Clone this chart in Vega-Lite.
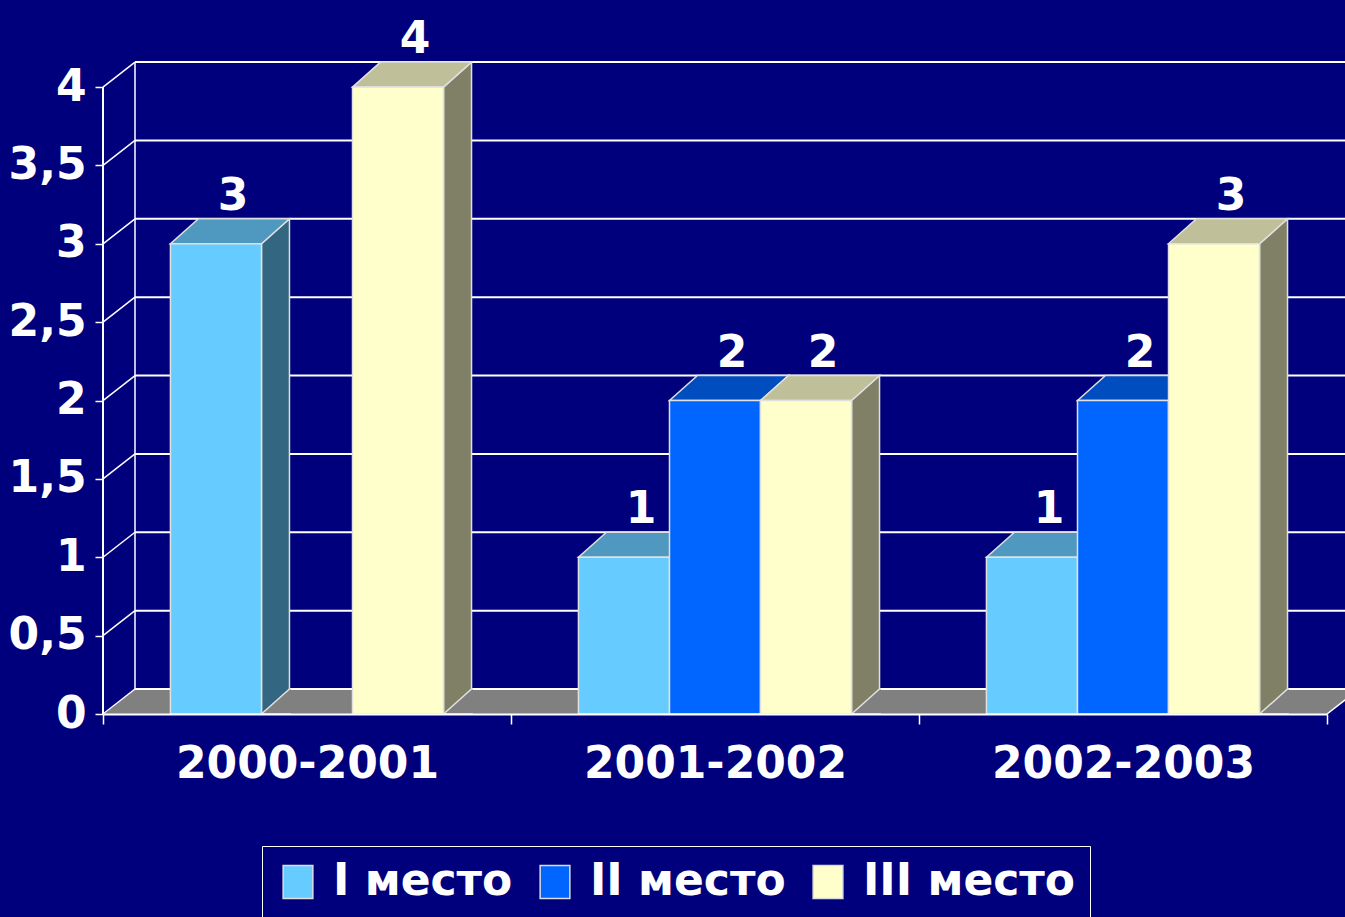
{
  "$schema": "https://vega.github.io/schema/vega-lite/v6.json",
  "width": 1224,
  "height": 652,
  "autosize": {"type": "none"},
  "padding": {"left": 103, "top": 62, "right": 18, "bottom": 203},
  "background": "#00007c",
  "config": {
    "view": {"stroke": null},
    "axis": {
      "labelFont": "DejaVu Sans",
      "labelFontWeight": "bold",
      "labelFontSize": 44,
      "labelColor": "white",
      "labelLimit": 500,
      "tickColor": "white",
      "domainColor": "white"
    },
    "legend": {
      "labelFont": "DejaVu Sans",
      "labelFontWeight": "bold",
      "labelFontSize": 44,
      "labelColor": "white",
      "labelLimit": 500,
      "symbolType": "M-0.9,-1 H0.9 V1 H-0.9 Z",
      "symbolSize": 1089,
      "symbolStrokeColor": "#dddddd",
      "symbolStrokeWidth": 1.5,
      "symbolOpacity": 1
    }
  },
  "datasets": {
    "bars": [
      {"period": "2000-2001", "place": "I место", "value": 3},
      {"period": "2000-2001", "place": "III место", "value": 4},
      {"period": "2001-2002", "place": "I место", "value": 1},
      {"period": "2001-2002", "place": "II место", "value": 2},
      {"period": "2001-2002", "place": "III место", "value": 2},
      {"period": "2002-2003", "place": "I место", "value": 1},
      {"period": "2002-2003", "place": "II место", "value": 2},
      {"period": "2002-2003", "place": "III место", "value": 3}
    ],
    "grid": [
      {"v": 0}, {"v": 0.5}, {"v": 1}, {"v": 1.5}, {"v": 2},
      {"v": 2.5}, {"v": 3}, {"v": 3.5}, {"v": 4}
    ],
    "one": [{"k": 1}]
  },
  "layer": [
    {
      "data": {"name": "one"},
      "mark": {"type": "bar", "color": "#808080", "x2Offset": 32, "y2Offset": -25},
      "encoding": {
        "x": {"value": 0},
        "x2": {"value": "width"},
        "y": {"datum": 0, "type": "quantitative", "title": null, "scale": {"domain": [0, 4.16], "nice": false}},
        "y2": {"datum": 0}
      }
    },
    {
      "data": {"name": "one"},
      "mark": {"type": "point", "shape": "M0,1 L0,-25 L32,-25 Z", "size": 4, "filled": true, "fill": "#00007c", "strokeWidth": 0, "opacity": 1},
      "encoding": {
        "x": {"value": 0},
        "y": {"datum": 0, "type": "quantitative", "title": null, "scale": {"domain": [0, 4.16], "nice": false}}
      }
    },
    {
      "data": {"name": "one"},
      "mark": {"type": "point", "shape": "M0,0 L32,-25 L32,0", "size": 4, "filled": true, "fill": "#00007c", "stroke": "white", "strokeWidth": 1.5, "opacity": 1},
      "encoding": {
        "x": {"value": "width"},
        "y": {"datum": 0, "type": "quantitative", "title": null, "scale": {"domain": [0, 4.16], "nice": false}}
      }
    },
    {
      "data": {"name": "grid"},
      "mark": {"type": "rule", "color": "white", "strokeWidth": 2, "xOffset": 32, "x2Offset": 32, "yOffset": -25},
      "encoding": {
        "x": {"value": 0},
        "x2": {"value": "width"},
        "y": {"field": "v", "type": "quantitative", "title": null, "scale": {"domain": [0, 4.16], "nice": false}}
      }
    },
    {
      "data": {"name": "grid"},
      "mark": {"type": "rule", "color": "white", "strokeWidth": 1.5, "x2Offset": 32, "y2Offset": -25},
      "encoding": {
        "x": {"value": 0},
        "x2": {"value": 0},
        "y": {"field": "v", "type": "quantitative", "title": null, "scale": {"domain": [0, 4.16], "nice": false}},
        "y2": {"field": "v"}
      }
    },
    {
      "data": {"name": "one"},
      "mark": {"type": "rule", "color": "white", "strokeWidth": 1.5, "xOffset": 32, "yOffset": -25, "y2Offset": -25},
      "encoding": {
        "x": {"value": 0},
        "y": {"datum": 0, "type": "quantitative", "title": null, "scale": {"domain": [0, 4.16], "nice": false}},
        "y2": {"datum": 4}
      }
    },
    {
      "data": {"name": "one"},
      "mark": {"type": "rule", "color": "white", "strokeWidth": 2},
      "encoding": {
        "x": {"value": 0},
        "y": {"datum": 0, "type": "quantitative", "title": null, "scale": {"domain": [0, 4.16], "nice": false}},
        "y2": {"datum": 4}
      }
    },
    {
      "data": {"name": "bars"},
      "mark": {"type": "point", "shape": "M45.5,0 L73.5,-25 L73.5,1000 L45.5,1000 Z", "size": 4, "filled": true, "opacity": 1, "stroke": "#e0e0e0", "strokeWidth": 1.5, "clip": true},
      "encoding": {
        "x": {"field": "period", "type": "nominal", "title": null, "scale": {"domain": ["2000-2001", "2001-2002", "2002-2003"], "paddingInner": 0, "paddingOuter": 0}},
        "xOffset": {"field": "place", "type": "nominal", "scale": {"domain": ["I место", "II место", "III место"], "paddingInner": 0, "paddingOuter": 0.741}},
        "y": {"field": "value", "type": "quantitative", "title": null, "scale": {"domain": [0, 4.16], "nice": false}},
        "fill": {
          "condition": [
            {"test": "datum.place === 'I место'", "value": "#336680"},
            {"test": "datum.place === 'II место'", "value": "#003380"}
          ],
          "value": "#808066"
        }
      }
    },
    {
      "data": {"name": "bars"},
      "mark": {"type": "point", "shape": "M75,0 L45.5,0 L73.5,-25 L75,-25", "size": 4, "filled": true, "opacity": 1, "fill": "#808080", "stroke": "#e0e0e0", "strokeWidth": 1.5},
      "encoding": {
        "x": {"field": "period", "type": "nominal", "title": null, "scale": {"domain": ["2000-2001", "2001-2002", "2002-2003"], "paddingInner": 0, "paddingOuter": 0}},
        "xOffset": {"field": "place", "type": "nominal", "scale": {"domain": ["I место", "II место", "III место"], "paddingInner": 0, "paddingOuter": 0.741}},
        "y": {"datum": 0, "type": "quantitative", "title": null, "scale": {"domain": [0, 4.16], "nice": false}}
      }
    },
    {
      "data": {"name": "bars"},
      "mark": {"type": "point", "shape": "M-45.5,0 L45.5,0 L73.5,-25 L-17.5,-25 Z", "size": 4, "filled": true, "opacity": 1, "stroke": "#e0e0e0", "strokeWidth": 1.5},
      "encoding": {
        "x": {"field": "period", "type": "nominal", "title": null, "scale": {"domain": ["2000-2001", "2001-2002", "2002-2003"], "paddingInner": 0, "paddingOuter": 0}},
        "xOffset": {"field": "place", "type": "nominal", "scale": {"domain": ["I место", "II место", "III место"], "paddingInner": 0, "paddingOuter": 0.741}},
        "y": {"field": "value", "type": "quantitative", "title": null, "scale": {"domain": [0, 4.16], "nice": false}},
        "fill": {
          "condition": [
            {"test": "datum.place === 'I место'", "value": "#4f98bf"},
            {"test": "datum.place === 'II место'", "value": "#004dbf"}
          ],
          "value": "#bfbf99"
        }
      }
    },
    {
      "data": {"name": "bars"},
      "mark": {"type": "bar", "stroke": "#e0e0e0", "strokeWidth": 1.5, "opacity": 1},
      "encoding": {
        "x": {
          "field": "period", "type": "nominal", "title": null,
          "scale": {"domain": ["2000-2001", "2001-2002", "2002-2003"], "paddingInner": 0, "paddingOuter": 0},
          "axis": {"title": null, "labelAngle": 0, "labelAlign": "center", "labelLimit": 500, "tickBand": "extent", "tickSize": 10, "tickWidth": 1.5, "domainWidth": 2, "labelPadding": 40, "zindex": 1}
        },
        "xOffset": {"field": "place", "type": "nominal", "scale": {"domain": ["I место", "II место", "III место"], "paddingInner": 0, "paddingOuter": 0.741}},
        "y": {
          "field": "value", "type": "quantitative", "stack": null, "title": null,
          "scale": {"domain": [0, 4.16], "nice": false},
          "axis": {"title": null, "values": [0, 0.5, 1, 1.5, 2, 2.5, 3, 3.5, 4], "format": ".2~f", "labelExpr": "replace(datum.label, '.', ',')", "domain": false, "grid": false, "tickSize": 8, "tickWidth": 1.5, "labelPadding": 9, "zindex": 1}
        },
        "color": {
          "field": "place", "type": "nominal",
          "scale": {"domain": ["I место", "II место", "III место"], "range": ["#66ccff", "#0066ff", "#ffffcc"]},
          "legend": {"title": null, "orient": "none", "legendX": 159, "legendY": 784, "direction": "horizontal", "strokeColor": "white", "padding": 14, "columnPadding": 20, "labelOffset": 13}
        }
      }
    },
    {
      "data": {"name": "bars"},
      "mark": {"type": "text", "font": "DejaVu Sans", "fontWeight": "bold", "fontSize": 44, "color": "white", "align": "center", "baseline": "alphabetic", "dx": 17, "dy": -34},
      "encoding": {
        "x": {"field": "period", "type": "nominal", "title": null, "scale": {"domain": ["2000-2001", "2001-2002", "2002-2003"], "paddingInner": 0, "paddingOuter": 0}},
        "xOffset": {"field": "place", "type": "nominal", "scale": {"domain": ["I место", "II место", "III место"], "paddingInner": 0, "paddingOuter": 0.741}},
        "y": {"field": "value", "type": "quantitative", "title": null, "scale": {"domain": [0, 4.16], "nice": false}},
        "text": {"field": "value", "type": "quantitative"}
      }
    }
  ]
}
